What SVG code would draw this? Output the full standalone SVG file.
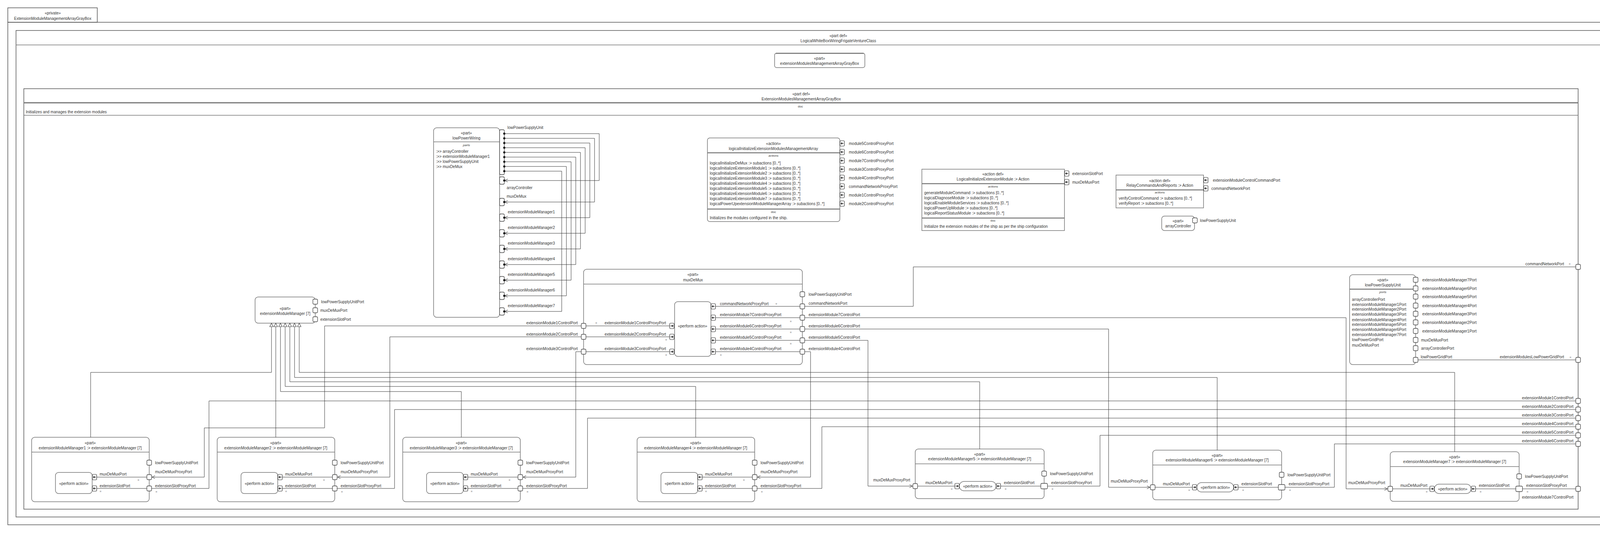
<svg xmlns="http://www.w3.org/2000/svg" xmlns:xlink="http://www.w3.org/1999/xlink" width="4293" height="1364" viewBox="0 0 4293 1364">
<style>
.t{font-family:"Liberation Sans",Arial,sans-serif;font-size:10px;fill:#333;dominant-baseline:central}
.m{text-anchor:middle}
.e{text-anchor:end}
.s{font-size:8px;font-style:italic}
.q{font-size:8px}
.frm{fill:none;stroke:#555;stroke-width:1.5}
.box{fill:#fff;stroke:#777;stroke-width:1.5}
.sep{fill:none;stroke:#777;stroke-width:1.5}
.thk{fill:none;stroke:#777;stroke-width:2.5}
.port{fill:#fff;stroke:#444;stroke-width:1.3}
.w{fill:none;stroke:#333;stroke-width:1}
.wa{fill:none;stroke:#333;stroke-width:1;marker-end:url(#oa)}
.dot{fill:#111}
</style>
<defs>
<marker id="oa" markerWidth="10" markerHeight="10" refX="8" refY="4" orient="auto" markerUnits="userSpaceOnUse"><path d="M0,0 L8,4 L0,8" fill="none" stroke="#333" stroke-width="1"/></marker>
<g id="p"><rect x="-6" y="-6.5" width="12" height="13" rx="3" class="port"/></g>
<g id="pw"><rect x="-8.5" y="-7" width="17" height="14" rx="3" class="port"/></g>
<g id="pt"><rect x="-6" y="-9.5" width="12" height="19" rx="3" class="port"/></g>
<g id="al"><rect x="-5.5" y="-7" width="11" height="14" rx="2" fill="#fff" stroke="#333" stroke-width="1.2"/><path d="M3,0H-3M-0.5,-2.5L-3,0L-0.5,2.5" fill="none" stroke="#111" stroke-width="1.3"/></g>
<g id="ar"><rect x="-5.5" y="-7" width="11" height="14" rx="2" fill="#fff" stroke="#333" stroke-width="1.2"/><path d="M-3,0H3M0.5,-2.5L3,0L0.5,2.5" fill="none" stroke="#111" stroke-width="1.3"/></g>
<g id="tri"><polygon points="0,0 -4.5,9 4.5,9" fill="#fff" stroke="#444" stroke-width="1.2"/></g>
</defs>
<rect x="0" y="0" width="4293" height="1364" fill="#fff"/>

<g id="frame-private">
<rect x="20" y="20" width="229" height="37" class="frm"/>
<rect x="20" y="57" width="4251" height="1286" class="frm"/>
<text x="135" y="33" class="t m">«private»</text>
<text x="135" y="47" class="t m">ExtensionModuleManagementArrayGrayBox</text>
</g>

<g id="frame-whitebox">
<rect x="41" y="78" width="4210" height="1245" class="frm"/>
<path d="M41,115H4251" class="sep"/>
<text x="2146" y="91" class="t m">«part def»</text>
<text x="2146" y="104" class="t m">LogicalWhiteBoxWiringFrigateVentureClass</text>
</g>

<g id="part-extensionModulesManagementArrayGrayBox">
<rect x="1983" y="136" width="231" height="37" rx="5" class="box"/>
<path d="M1986,136.5H2211" stroke="#777" stroke-width="2.5"/>
<text x="2098" y="149" class="t m">«part»</text>
<text x="2098" y="162" class="t m">extensionModulesManagementArrayGrayBox</text>
</g>

<g id="frame-graybox">
<rect x="61" y="227" width="3979" height="1076" class="frm"/>
<path d="M61,263H4040" stroke="#777" stroke-width="3"/>
<path d="M61,295H4040" class="sep"/>
<text x="2051" y="240" class="t m">«part def»</text>
<text x="2051" y="253" class="t m">ExtensionModulesManagementArrayGrayBox</text>
<text x="2049" y="272" class="t m q">doc</text>
<text x="66" y="286" class="t">Initializes and manages the extension modules</text>
<use href="#p" x="4040" y="683"/>
<use href="#p" x="4040" y="921"/>
<use href="#p" x="4040" y="1026"/>
<use href="#p" x="4040" y="1048"/>
<use href="#p" x="4040" y="1070"/>
<use href="#p" x="4040" y="1092"/>
<use href="#p" x="4040" y="1114"/>
<use href="#p" x="4040" y="1136"/>
<use href="#p" x="4040" y="1251"/>
<text x="4004" y="675" class="t e">commandNetworkPort</text>
<text x="4004" y="913" class="t e">extensionModulesLowPowerGridPort</text>
<text x="4028" y="1018" class="t e">extensionModule1ControlPort</text>
<text x="4028" y="1040" class="t e">extensionModule2ControlPort</text>
<text x="4028" y="1062" class="t e">extensionModule3ControlPort</text>
<text x="4028" y="1084" class="t e">extensionModule4ControlPort</text>
<text x="4028" y="1106" class="t e">extensionModule5ControlPort</text>
<text x="4028" y="1128" class="t e">extensionModule6ControlPort</text>
<text x="4028" y="1272" class="t e">extensionModule7ControlPort</text>
<text x="4016" y="675" class="t q">=</text>
<text x="4018" y="914" class="t q">=</text>
</g>

<g id="part-lowPowerWiring">
<rect x="1110" y="327" width="169" height="485" rx="8" class="box"/>
<path d="M1110,363H1279" class="sep"/>
<text x="1194" y="340" class="t m">«part»</text>
<text x="1194" y="353" class="t m">lowPowerWiring</text>
<text x="1194" y="371" class="t m s">parts</text>
<text x="1116" y="387" class="t">:&gt;&gt; arrayController</text>
<text x="1116" y="400" class="t">:&gt;&gt; extensionModuleManager1</text>
<text x="1116" y="413" class="t">:&gt;&gt; lowPowerSupplyUnit</text>
<text x="1116" y="426" class="t">:&gt;&gt; muxDeMux</text>
<rect x="1279" y="332" width="12" height="115" rx="3" class="port"/>
<circle cx="1291" cy="342" r="2.8" class="dot"/><circle cx="1291" cy="354" r="2.8" class="dot"/><circle cx="1291" cy="366" r="2.8" class="dot"/><circle cx="1291" cy="378" r="2.8" class="dot"/><circle cx="1291" cy="390" r="2.8" class="dot"/><circle cx="1291" cy="402" r="2.8" class="dot"/><circle cx="1291" cy="414" r="2.8" class="dot"/><circle cx="1291" cy="426" r="2.8" class="dot"/><circle cx="1291" cy="438" r="2.8" class="dot"/>
<text x="1299" y="326" class="t">lowPowerSupplyUnit</text>
<use href="#pt" x="1285" y="462"/><use href="#pt" x="1285" y="517"/><use href="#pt" x="1285" y="557"/><use href="#pt" x="1285" y="597"/><use href="#pt" x="1285" y="637"/><use href="#pt" x="1285" y="677"/><use href="#pt" x="1285" y="717"/><use href="#pt" x="1285" y="757"/><use href="#pt" x="1285" y="797"/>
<circle cx="1291" cy="462" r="2.8" class="dot"/><circle cx="1291" cy="517" r="2.8" class="dot"/><circle cx="1291" cy="557" r="2.8" class="dot"/><circle cx="1291" cy="597" r="2.8" class="dot"/><circle cx="1291" cy="637" r="2.8" class="dot"/><circle cx="1291" cy="677" r="2.8" class="dot"/><circle cx="1291" cy="717" r="2.8" class="dot"/><circle cx="1291" cy="757" r="2.8" class="dot"/><circle cx="1291" cy="797" r="2.8" class="dot"/>
<text x="1297" y="480" class="t">arrayController</text>
<text x="1297" y="502" class="t">muxDeMux</text>
<text x="1300" y="542" class="t">extensionModuleManager1</text>
<text x="1300" y="582" class="t">extensionModuleManager2</text>
<text x="1300" y="622" class="t">extensionModuleManager3</text>
<text x="1300" y="662" class="t">extensionModuleManager4</text>
<text x="1300" y="702" class="t">extensionModuleManager5</text>
<text x="1300" y="742" class="t">extensionModuleManager6</text>
<text x="1300" y="782" class="t">extensionModuleManager7</text>
</g>

<g id="action-logicalInitializeExtensionModulesManagementArray">
<rect x="1811" y="353" width="339" height="214" rx="6" class="box"/>
<path d="M1811,391H2150M1811,535H2150" class="thk"/>
<text x="1980" y="367" class="t m">«action»</text>
<text x="1980" y="380" class="t m">logicalInitializeExtensionModulesManagementArray</text>
<text x="1980" y="398" class="t m s">actions</text>
<text x="1817" y="417" class="t">logicalInitializeDeMux :&gt; subactions [0..*]</text>
<text x="1817" y="430" class="t">logicalInitializeExtensionModule1 :&gt; subactions [0..*]</text>
<text x="1817" y="443" class="t">logicalInitializeExtensionModule2 :&gt; subactions [0..*]</text>
<text x="1817" y="456" class="t">logicalInitializeExtensionModule3 :&gt; subactions [0..*]</text>
<text x="1817" y="469" class="t">logicalInitializeExtensionModule4 :&gt; subactions [0..*]</text>
<text x="1817" y="482" class="t">logicalInitializeExtensionModule5 :&gt; subactions [0..*]</text>
<text x="1817" y="495" class="t">logicalInitializeExtensionModule6 :&gt; subactions [0..*]</text>
<text x="1817" y="508" class="t">logicalInitializeExtensionModule7 :&gt; subactions [0..*]</text>
<text x="1817" y="521" class="t">logicalPowerUpextensionModuleManagerArray :&gt; subactions [0..*]</text>
<text x="1980" y="542" class="t m q">doc</text>
<text x="1817" y="557" class="t">Initializes the modules configured in the ship.</text>
<use href="#al" x="2156" y="367"/><use href="#al" x="2156" y="389"/><use href="#al" x="2156" y="411"/><use href="#al" x="2156" y="433"/><use href="#al" x="2156" y="455"/><use href="#al" x="2156" y="477"/><use href="#al" x="2156" y="499"/><use href="#al" x="2156" y="521"/>
<text x="2173" y="367" class="t">module5ControlProxyPort</text>
<text x="2173" y="389" class="t">module6ControlProxyPort</text>
<text x="2173" y="411" class="t">module7ControlProxyPort</text>
<text x="2173" y="433" class="t">module3ControlProxyPort</text>
<text x="2173" y="455" class="t">module4ControlProxyPort</text>
<text x="2173" y="477" class="t">commandNetworkProxyPort</text>
<text x="2173" y="499" class="t">module1ControlProxyPort</text>
<text x="2173" y="521" class="t">module2ControlProxyPort</text>
</g>

<g id="actiondef-LogicalInitializeExtensionModule">
<rect x="2360" y="433" width="365" height="157" class="box"/>
<path d="M2360,470H2725M2360,558H2725" class="thk"/>
<text x="2542" y="445" class="t m">«action def»</text>
<text x="2542" y="458" class="t m">LogicalInitializeExtensionModule :&gt; Action</text>
<text x="2542" y="477" class="t m s">actions</text>
<text x="2366" y="493" class="t">generateModuleCommand :&gt; subactions [0..*]</text>
<text x="2366" y="506" class="t">logicalDiagnoseModule :&gt; subactions [0..*]</text>
<text x="2366" y="519" class="t">logicalEnableModuleServices :&gt; subactions [0..*]</text>
<text x="2366" y="532" class="t">logicalPowerUpModule :&gt; subactions [0..*]</text>
<text x="2366" y="545" class="t">logicalReportStatusModule :&gt; subactions [0..*]</text>
<text x="2542" y="564" class="t m q">doc</text>
<text x="2366" y="579" class="t">Initialize the extension modules of the ship as per the ship configuration</text>
<use href="#al" x="2731" y="444"/><use href="#al" x="2731" y="466"/>
<text x="2745" y="444" class="t">extensionSlotPort</text>
<text x="2745" y="466" class="t">muxDeMuxPort</text>
</g>

<g id="actiondef-RelayCommandsAndReports">
<rect x="2857" y="448" width="224" height="84" class="box"/>
<path d="M2857,486H3081" class="thk"/>
<text x="2969" y="462" class="t m">«action def»</text>
<text x="2969" y="474" class="t m">RelayCommandsAndReports :&gt; Action</text>
<text x="2969" y="492" class="t m s">actions</text>
<text x="2864" y="507" class="t">verifyControlCommand :&gt; subactions [0..*]</text>
<text x="2864" y="520" class="t">verifyReport :&gt; subactions [0..*]</text>
<use href="#al" x="3087" y="461"/><use href="#al" x="3087" y="482"/>
<text x="3105" y="461" class="t">extensionModuleControlCommandPort</text>
<text x="3101" y="482" class="t">commandNetworkPort</text>
</g>

<g id="part-arrayController">
<rect x="2974" y="553" width="84" height="37" rx="7" class="box"/>
<text x="3016" y="565" class="t m">«part»</text>
<text x="3016" y="578" class="t m">arrayController</text>
<use href="#p" x="3059" y="564"/>
<text x="3072" y="564" class="t">lowPowerSupplyUnit</text>
</g>

<g id="part-extensionModuleManager">
<rect x="653" y="760" width="154" height="67" rx="8" class="box"/>
<text x="730" y="789" class="t m">«part»</text>
<text x="730" y="802" class="t m">extensionModuleManager [7]</text>
<use href="#p" x="807" y="772"/><use href="#p" x="807" y="794"/><use href="#p" x="807" y="817"/>
<text x="822" y="772" class="t">lowPowerSupplyUnitPort</text>
<text x="820" y="794" class="t">muxDeMuxPort</text>
<text x="820" y="817" class="t">extensionSlotPort</text>
<use href="#tri" x="695" y="827"/><use href="#tri" x="706" y="827"/><use href="#tri" x="718" y="827"/><use href="#tri" x="730" y="827"/><use href="#tri" x="742" y="827"/><use href="#tri" x="754" y="827"/><use href="#tri" x="766" y="827"/>
</g>

<g id="part-muxDeMux">
<rect x="1494" y="689" width="560" height="244" rx="8" class="box"/>
<path d="M1494,727H2054" class="sep"/>
<text x="1774" y="702" class="t m">«part»</text>
<text x="1774" y="716" class="t m">muxDeMux</text>
<rect x="1727" y="772" width="93" height="140" rx="8" class="box"/>
<text x="1773" y="834" class="t m">«perform action»</text>
<use href="#ar" x="1720" y="834"/><use href="#ar" x="1720" y="862"/><use href="#ar" x="1720" y="900"/>
<use href="#al" x="1826" y="784"/><use href="#al" x="1826" y="813"/><use href="#al" x="1826" y="842"/><use href="#al" x="1826" y="871"/><use href="#al" x="1826" y="900"/>
<use href="#p" x="1494" y="834"/><use href="#p" x="1494" y="862"/><use href="#p" x="1494" y="900"/>
<use href="#p" x="2054" y="753"/><use href="#p" x="2054" y="784"/><use href="#p" x="2054" y="813"/><use href="#p" x="2054" y="842"/><use href="#p" x="2054" y="871"/><use href="#p" x="2054" y="900"/>
<text x="1479" y="826" class="t e">extensionModule1ControlPort</text>
<text x="1479" y="855" class="t e">extensionModule2ControlPort</text>
<text x="1479" y="892" class="t e">extensionModule3ControlPort</text>
<text x="1705" y="826" class="t e">extensionModule1ControlProxyPort</text>
<text x="1705" y="855" class="t e">extensionModule2ControlProxyPort</text>
<text x="1705" y="892" class="t e">extensionModule3ControlProxyPort</text>
<text x="1524" y="826" class="t q">=</text>
<text x="1703" y="869" class="t q">=</text>
<text x="1703" y="908" class="t q">=</text>
<text x="1843" y="777" class="t">commandNetworkProxyPort</text>
<text x="1843" y="805" class="t">extensionModule7ControlProxyPort</text>
<text x="1843" y="834" class="t">extensionModule6ControlProxyPort</text>
<text x="1843" y="863" class="t">extensionModule5ControlProxyPort</text>
<text x="1843" y="892" class="t">extensionModule4ControlProxyPort</text>
<text x="1985" y="777" class="t q">=</text>
<text x="2022" y="822" class="t q">=</text>
<text x="2022" y="850" class="t q">=</text>
<text x="2022" y="879" class="t q">=</text>
<text x="1843" y="908" class="t q">=</text>
<text x="2070" y="753" class="t">lowPowerSupplyUnitPort</text>
<text x="2070" y="776" class="t">commandNetworkPort</text>
<text x="2070" y="805" class="t">extensionModule7ControlPort</text>
<text x="2070" y="834" class="t">extensionModule6ControlPort</text>
<text x="2070" y="863" class="t">extensionModule5ControlPort</text>
<text x="2070" y="892" class="t">extensionModule4ControlPort</text>
</g>

<g id="part-lowPowerSupplyUnit">
<rect x="3455" y="703" width="169" height="230" rx="8" class="box"/>
<path d="M3455,740H3624" class="thk"/>
<text x="3540" y="716" class="t m">«part»</text>
<text x="3540" y="729" class="t m">lowPowerSupplyUnit</text>
<text x="3540" y="747" class="t m s">ports</text>
<text x="3461" y="766" class="t">arrayControllerPort</text>
<text x="3461" y="779" class="t">extensionModuleManager1Port</text>
<text x="3461" y="791" class="t">extensionModuleManager2Port</text>
<text x="3461" y="804" class="t">extensionModuleManager3Port</text>
<text x="3461" y="818" class="t">extensionModuleManager4Port</text>
<text x="3461" y="830" class="t">extensionModuleManager5Port</text>
<text x="3461" y="843" class="t">extensionModuleManager6Port</text>
<text x="3461" y="856" class="t">extensionModuleManager7Port</text>
<text x="3461" y="869" class="t">lowPowerGridPort</text>
<text x="3461" y="883" class="t">muxDeMuxPort</text>
<use href="#p" x="3624" y="716"/><use href="#p" x="3624" y="738"/><use href="#p" x="3624" y="759"/><use href="#p" x="3624" y="782"/><use href="#p" x="3624" y="803"/><use href="#p" x="3624" y="825"/><use href="#p" x="3624" y="847"/><use href="#p" x="3624" y="870"/><use href="#p" x="3624" y="891"/><use href="#p" x="3624" y="921"/>
<text x="3641" y="716" class="t">extensionModuleManager7Port</text>
<text x="3641" y="738" class="t">extensionModuleManager6Port</text>
<text x="3641" y="759" class="t">extensionModuleManager5Port</text>
<text x="3641" y="782" class="t">extensionModuleManager4Port</text>
<text x="3641" y="803" class="t">extensionModuleManager3Port</text>
<text x="3641" y="825" class="t">extensionModuleManager2Port</text>
<text x="3641" y="847" class="t">extensionModuleManager1Port</text>
<text x="3638" y="870" class="t">muxDeMuxPort</text>
<text x="3638" y="891" class="t">arrayControllerPort</text>
<text x="3637" y="913" class="t">lowPowerGridPort</text>
</g>

<g id="part-extensionModuleManager1">
<rect x="81" y="1119" width="301" height="165" rx="8" class="box"/>
<path d="M81,1157H382" class="sep"/>
<text x="231" y="1133" class="t m">«part»</text>
<text x="231" y="1146" class="t m">extensionModuleManager1 :&gt; extensionModuleManager [7]</text>
<rect x="142" y="1209" width="94" height="54" rx="8" class="box"/>
<text x="189" y="1237" class="t m">«perform action»</text>
<use href="#al" x="242" y="1221"/><use href="#al" x="242" y="1250"/>
<use href="#p" x="382" y="1184"/><use href="#p" x="382" y="1221"/><use href="#p" x="382" y="1250"/>
<text x="397" y="1184" class="t">lowPowerSupplyUnitPort</text>
<text x="397" y="1207" class="t">muxDeMuxProxyPort</text>
<text x="397" y="1243" class="t">extensionSlotProxyPort</text>
<text x="398" y="1258" class="t q">=</text>
<text x="255" y="1213" class="t">muxDeMuxPort</text>
<text x="352" y="1228" class="t q">=</text>
<text x="255" y="1243" class="t">extensionSlotPort</text>
<text x="255" y="1257" class="t q">=</text>
</g>

<g id="part-extensionModuleManager2">
<rect x="556" y="1119" width="301" height="165" rx="8" class="box"/>
<path d="M556,1157H857" class="sep"/>
<text x="706" y="1133" class="t m">«part»</text>
<text x="706" y="1146" class="t m">extensionModuleManager2 :&gt; extensionModuleManager [7]</text>
<rect x="617" y="1209" width="94" height="54" rx="8" class="box"/>
<text x="664" y="1237" class="t m">«perform action»</text>
<use href="#al" x="717" y="1221"/><use href="#al" x="717" y="1250"/>
<use href="#p" x="857" y="1184"/><use href="#p" x="857" y="1221"/><use href="#p" x="857" y="1250"/>
<text x="872" y="1184" class="t">lowPowerSupplyUnitPort</text>
<text x="872" y="1207" class="t">muxDeMuxProxyPort</text>
<text x="872" y="1243" class="t">extensionSlotProxyPort</text>
<text x="873" y="1258" class="t q">=</text>
<text x="730" y="1213" class="t">muxDeMuxPort</text>
<text x="827" y="1228" class="t q">=</text>
<text x="730" y="1243" class="t">extensionSlotPort</text>
<text x="730" y="1257" class="t q">=</text>
</g>

<g id="part-extensionModuleManager3">
<rect x="1031" y="1119" width="301" height="165" rx="8" class="box"/>
<path d="M1031,1157H1332" class="sep"/>
<text x="1181" y="1133" class="t m">«part»</text>
<text x="1181" y="1146" class="t m">extensionModuleManager3 :&gt; extensionModuleManager [7]</text>
<rect x="1092" y="1209" width="94" height="54" rx="8" class="box"/>
<text x="1139" y="1237" class="t m">«perform action»</text>
<use href="#al" x="1192" y="1221"/><use href="#al" x="1192" y="1250"/>
<use href="#p" x="1332" y="1184"/><use href="#p" x="1332" y="1221"/><use href="#p" x="1332" y="1250"/>
<text x="1347" y="1184" class="t">lowPowerSupplyUnitPort</text>
<text x="1347" y="1207" class="t">muxDeMuxProxyPort</text>
<text x="1347" y="1243" class="t">extensionSlotProxyPort</text>
<text x="1348" y="1258" class="t q">=</text>
<text x="1205" y="1213" class="t">muxDeMuxPort</text>
<text x="1302" y="1228" class="t q">=</text>
<text x="1205" y="1243" class="t">extensionSlotPort</text>
<text x="1205" y="1257" class="t q">=</text>
</g>

<g id="part-extensionModuleManager4">
<rect x="1631" y="1119" width="301" height="165" rx="8" class="box"/>
<path d="M1631,1157H1932" class="sep"/>
<text x="1781" y="1133" class="t m">«part»</text>
<text x="1781" y="1146" class="t m">extensionModuleManager4 :&gt; extensionModuleManager [7]</text>
<rect x="1692" y="1209" width="94" height="54" rx="8" class="box"/>
<text x="1739" y="1237" class="t m">«perform action»</text>
<use href="#al" x="1792" y="1221"/><use href="#al" x="1792" y="1250"/>
<use href="#p" x="1932" y="1184"/><use href="#p" x="1932" y="1221"/><use href="#p" x="1932" y="1250"/>
<text x="1947" y="1184" class="t">lowPowerSupplyUnitPort</text>
<text x="1947" y="1207" class="t">muxDeMuxProxyPort</text>
<text x="1947" y="1243" class="t">extensionSlotProxyPort</text>
<text x="1948" y="1258" class="t q">=</text>
<text x="1805" y="1213" class="t">muxDeMuxPort</text>
<text x="1902" y="1228" class="t q">=</text>
<text x="1805" y="1243" class="t">extensionSlotPort</text>
<text x="1805" y="1257" class="t q">=</text>
</g>

<g id="part-extensionModuleManager5">
<rect x="2343" y="1149" width="330" height="127" rx="8" class="box"/>
<path d="M2343,1187H2673" class="sep"/>
<text x="2508" y="1162" class="t m">«part»</text>
<text x="2508" y="1174" class="t m">extensionModuleManager5 :&gt; extensionModuleManager [7]</text>
<use href="#p" x="2673" y="1212"/>
<text x="2688" y="1212" class="t">lowPowerSupplyUnitPort</text>
<use href="#p" x="2343" y="1244"/>
<text x="2330" y="1228" class="t e">muxDeMuxProxyPort</text>
<text x="2369" y="1235" class="t">muxDeMuxPort</text>
<text x="2434" y="1251" class="t q">=</text>
<rect x="2456" y="1232" width="94" height="24" rx="12" class="box"/>
<text x="2503" y="1244" class="t m">«perform action»</text>
<use href="#ar" x="2450" y="1244"/><use href="#al" x="2556" y="1244"/>
<text x="2570" y="1235" class="t">extensionSlotPort</text>
<text x="2572" y="1251" class="t q">=</text>
<use href="#pw" x="2673" y="1244"/>
<text x="2691" y="1235" class="t">extensionSlotProxyPort</text>
<text x="2692" y="1251" class="t q">=</text>
</g>

<g id="part-extensionModuleManager6">
<rect x="2951" y="1152" width="330" height="127" rx="8" class="box"/>
<path d="M2951,1190H3281" class="sep"/>
<text x="3116" y="1165" class="t m">«part»</text>
<text x="3116" y="1177" class="t m">extensionModuleManager6 :&gt; extensionModuleManager [7]</text>
<use href="#p" x="3281" y="1215"/>
<text x="3296" y="1215" class="t">lowPowerSupplyUnitPort</text>
<use href="#p" x="2951" y="1247"/>
<text x="2938" y="1231" class="t e">muxDeMuxProxyPort</text>
<text x="2977" y="1238" class="t">muxDeMuxPort</text>
<text x="3042" y="1254" class="t q">=</text>
<rect x="3064" y="1235" width="94" height="24" rx="12" class="box"/>
<text x="3111" y="1247" class="t m">«perform action»</text>
<use href="#ar" x="3058" y="1247"/><use href="#al" x="3164" y="1247"/>
<text x="3178" y="1238" class="t">extensionSlotPort</text>
<text x="3180" y="1254" class="t q">=</text>
<use href="#pw" x="3281" y="1247"/>
<text x="3299" y="1238" class="t">extensionSlotProxyPort</text>
<text x="3300" y="1254" class="t q">=</text>
</g>

<g id="part-extensionModuleManager7">
<rect x="3559" y="1156" width="330" height="127" rx="8" class="box"/>
<path d="M3559,1194H3889" class="sep"/>
<text x="3724" y="1169" class="t m">«part»</text>
<text x="3724" y="1181" class="t m">extensionModuleManager7 :&gt; extensionModuleManager [7]</text>
<use href="#p" x="3889" y="1219"/>
<text x="3904" y="1219" class="t">lowPowerSupplyUnitPort</text>
<use href="#p" x="3559" y="1251"/>
<text x="3546" y="1235" class="t e">muxDeMuxProxyPort</text>
<text x="3585" y="1242" class="t">muxDeMuxPort</text>
<text x="3650" y="1258" class="t q">=</text>
<rect x="3672" y="1239" width="94" height="24" rx="12" class="box"/>
<text x="3719" y="1251" class="t m">«perform action»</text>
<use href="#ar" x="3666" y="1251"/><use href="#al" x="3772" y="1251"/>
<text x="3786" y="1242" class="t">extensionSlotPort</text>
<text x="3788" y="1258" class="t q">=</text>
<use href="#pw" x="3889" y="1251"/>
<text x="3907" y="1242" class="t">extensionSlotProxyPort</text>
<text x="3908" y="1258" class="t q">=</text>
</g>

<g id="connectors">
<path class="wa" d="M1291,342H1534V462H1292"/>
<path class="wa" d="M1291,354H1522V517H1292"/>
<path class="wa" d="M1291,366H1510V557H1292"/>
<path class="wa" d="M1291,378H1498V597H1292"/>
<path class="wa" d="M1291,390H1486V637H1292"/>
<path class="wa" d="M1291,402H1474V677H1292"/>
<path class="wa" d="M1291,414H1462V717H1292"/>
<path class="wa" d="M1291,426H1450V757H1292"/>
<path class="wa" d="M1291,438H1438V797H1292"/>
<path class="w" d="M1500,834H1714.5M1500,862H1714.5M1500,900H1714.5"/>
<path class="w" d="M1831.5,784H2048M1831.5,813H2048M1831.5,842H2048M1831.5,871H2048M1831.5,900H2048"/>
<path class="w" d="M2060,784H2338V683H4034"/>
<path class="wa" d="M1488,834H831V1095H523V1221H389"/>
<path class="wa" d="M1488,862H998V1221H864"/>
<path class="wa" d="M1488,900H1474V1221H1339"/>
<path class="wa" d="M2060,900H2075V1221H1939"/>
<path class="wa" d="M2060,871H2222V1244H2336"/>
<path class="wa" d="M2060,842H2838V1247H2944"/>
<path class="wa" d="M2060,813H3446V1251H3552"/>
<path class="w" d="M388,1250H535V1026H4034"/>
<path class="w" d="M863,1250H1010V1048H4034"/>
<path class="w" d="M1338,1250H1504V1070H4034"/>
<path class="w" d="M1938,1250H2104V1092H4034"/>
<path class="w" d="M2681.5,1244H2816V1114H4034"/>
<path class="w" d="M3289.5,1247H3416V1136H4034"/>
<path class="w" d="M3897.5,1251H4034"/>
<path class="w" d="M3630,921H4034"/>
<path class="w" d="M232,1119V953H695V836"/>
<path class="w" d="M706,1119V836"/>
<path class="w" d="M1181,1119V1002H718V836"/>
<path class="w" d="M1781,1119V989H730V836"/>
<path class="w" d="M2508,1149V977H742V836"/>
<path class="w" d="M3116,1152V966H754V836"/>
<path class="w" d="M3724,1156V953H766V836"/>
<path class="w" d="M247.5,1221H376M247.5,1250H376"/>
<path class="w" d="M722.5,1221H851M722.5,1250H851"/>
<path class="w" d="M1197.5,1221H1326M1197.5,1250H1326"/>
<path class="w" d="M1797.5,1221H1926M1797.5,1250H1926"/>
<path class="w" d="M2349,1244H2444.5M2561.5,1244H2664.5"/>
<path class="w" d="M2957,1247H3052.5M3169.5,1247H3272.5"/>
<path class="w" d="M3565,1251H3660.5M3777.5,1251H3880.5"/>
</g>
</svg>
